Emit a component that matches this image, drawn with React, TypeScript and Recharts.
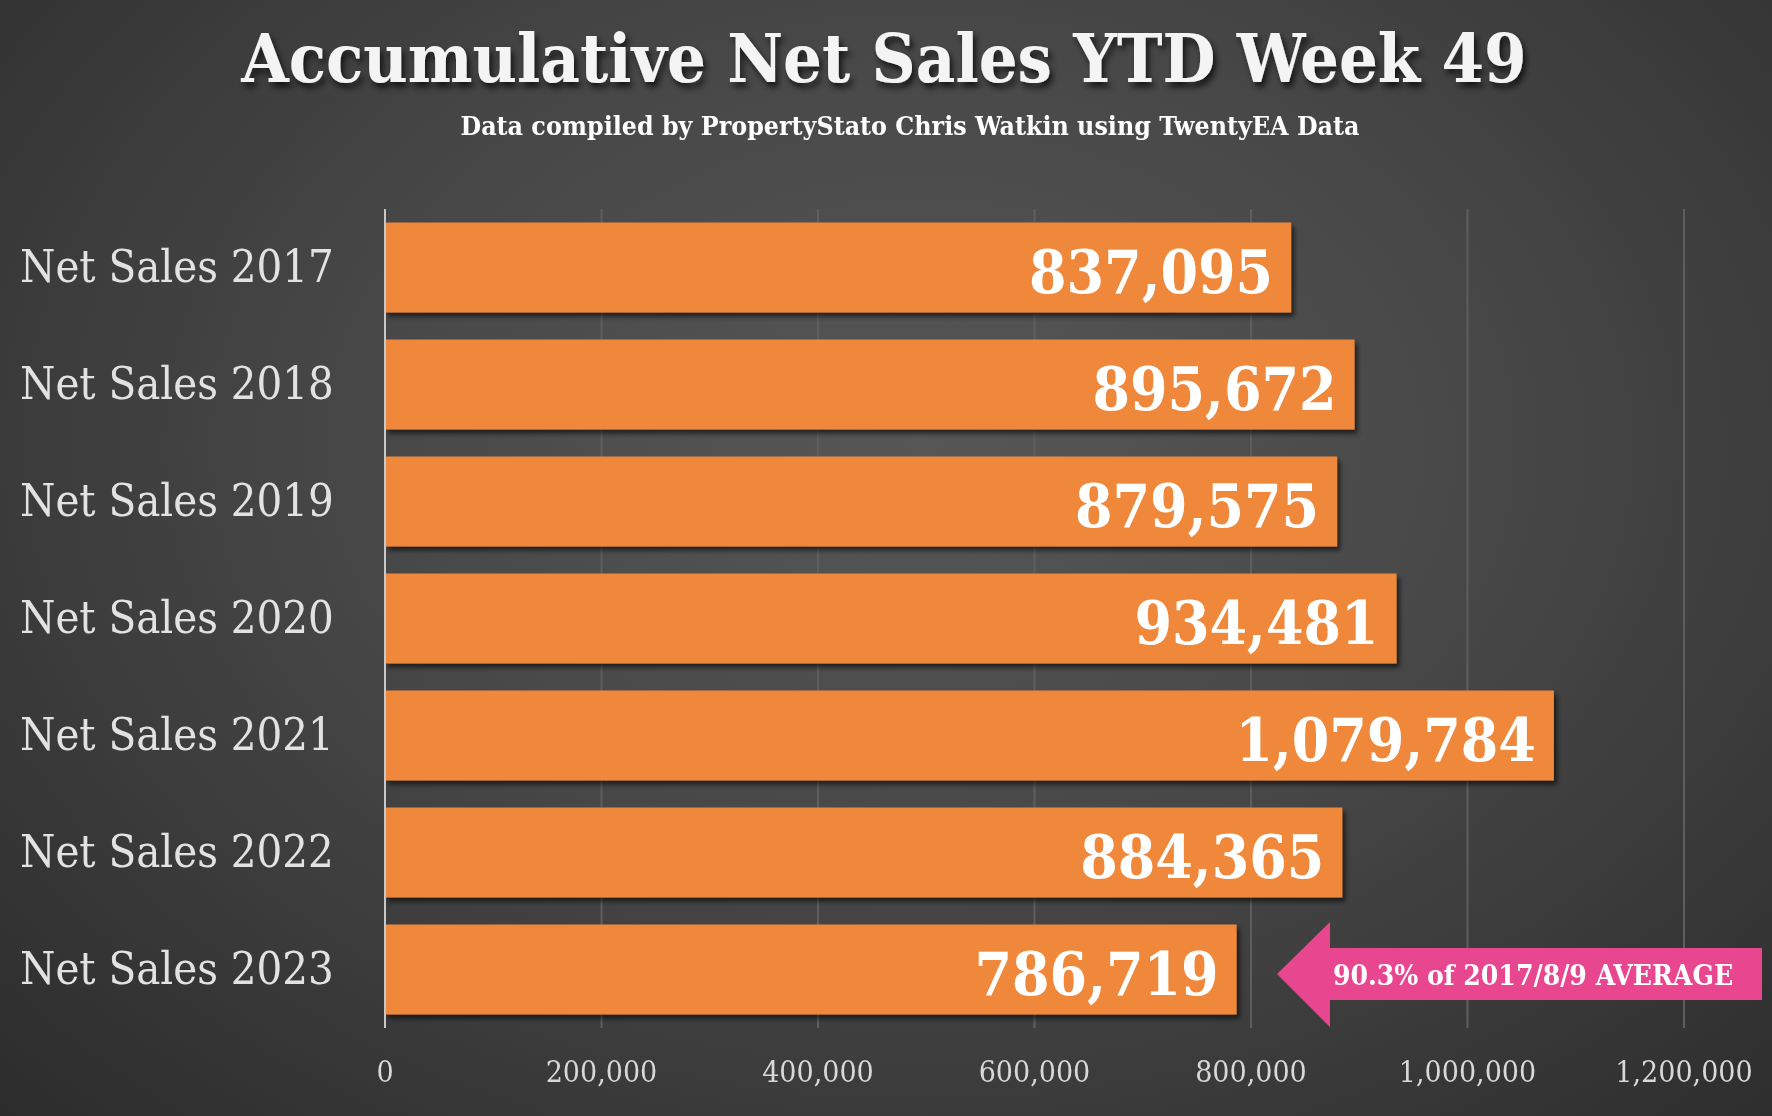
import React from 'react';
import { Bar, BarChart, CartesianGrid, LabelList, XAxis, YAxis } from 'recharts';

const categories = [
  'Net Sales 2017',
  'Net Sales 2018',
  'Net Sales 2019',
  'Net Sales 2020',
  'Net Sales 2021',
  'Net Sales 2022',
  'Net Sales 2023',
];
const netSales = [837095, 895672, 879575, 934481, 1079784, 884365, 786719];
const xTicks = [0, 200000, 400000, 600000, 800000, 1000000, 1200000];

const TITLE = 'Accumulative Net Sales YTD Week 49';
const SUBTITLE = 'Data compiled by PropertyStato Chris Watkin using TwentyEA Data';
const NOTE = '90.3% of 2017/8/9 AVERAGE';

const data = categories.map((name, i) => ({ name, value: netSales[i] }));

const FONT = '"DejaVu Serif Condensed", "DejaVu Serif", serif';
const fmt = (v: number) => v.toLocaleString('en-US');

const W = 1772;
const H = 1116;

function CategoryTick({ y, payload }: any) {
  return (
    <text x={20} y={y} dy={14} textAnchor="start" fill="#e2e2e2" fontFamily={FONT} fontSize={45}>
      {payload.value}
    </text>
  );
}

function ValueTick({ x, y, payload }: any) {
  return (
    <text x={x} y={y + 42} dy={4} textAnchor="middle" fill="#d8d8d8" fontFamily={FONT} fontSize={30}>
      {fmt(payload.value)}
    </text>
  );
}

function ValueLabel({ x, y, width, height, value }: any) {
  return (
    <text
      x={x + width - 18}
      y={y + height / 2}
      dy={26}
      textAnchor="end"
      fill="#ffffff"
      fontFamily={FONT}
      fontWeight="bold"
      fontSize={60}
    >
      {fmt(value)}
    </text>
  );
}

export default function App() {
  return (
    <div
      style={{
        position: 'fixed',
        left: 0,
        top: 0,
        width: W,
        height: H,
        background: 'radial-gradient(ellipse at 52% 40%, #575757 0%, #474747 45%, #2c2c2c 100%)',
      }}
    >
      <BarChart
        width={W}
        height={H}
        data={data}
        layout="vertical"
        margin={{ top: 209, right: 88, bottom: 0, left: 0 }}
        barCategoryGap="11.5%"
      >
        <defs>
          <filter id="barShadow" x="-5%" y="-20%" width="115%" height="150%">
            <feDropShadow dx="3" dy="4" stdDeviation="2.5" floodColor="#000" floodOpacity="0.6" />
          </filter>
        </defs>
        <CartesianGrid horizontal={false} stroke="#5e5e5e" strokeWidth={2} />
        <XAxis
          type="number"
          domain={[0, 1200000]}
          ticks={xTicks}
          axisLine={false}
          tickLine={false}
          tick={<ValueTick />}
          height={88}
        />
        <YAxis
          type="category"
          dataKey="name"
          width={385}
          axisLine={{ stroke: '#c8c8c8', strokeWidth: 2 }}
          tickLine={false}
          tick={<CategoryTick />}
        />
        <Bar dataKey="value" fill="#F0883B" filter="url(#barShadow)" isAnimationActive={false}>
          <LabelList dataKey="value" content={<ValueLabel />} />
        </Bar>
      </BarChart>
      <svg
        width={W}
        height={H}
        style={{ position: 'absolute', left: 0, top: 0, pointerEvents: 'none' }}
      >
        <defs>
          <filter id="titleShadow" x="-5%" y="-30%" width="110%" height="160%">
            <feDropShadow dx="3" dy="5" stdDeviation="3" floodColor="#000" floodOpacity="0.7" />
          </filter>
        </defs>
        <text
          x={884}
          y={82}
          textAnchor="middle"
          fill="#f4f4f4"
          fontFamily={FONT}
          fontWeight="bold"
          fontSize={68}
          filter="url(#titleShadow)"
        >
          {TITLE}
        </text>
        <text
          x={910}
          y={135}
          textAnchor="middle"
          fill="#ffffff"
          fontFamily={FONT}
          fontWeight="bold"
          fontSize={26.5}
        >
          {SUBTITLE}
        </text>
        <polygon
          points="1277,974 1330,922 1330,948 1762,948 1762,1000 1330,1000 1330,1027"
          fill="#E8468F"
        />
        <text
          x={1533}
          y={985}
          textAnchor="middle"
          fill="#ffffff"
          fontFamily={FONT}
          fontWeight="bold"
          fontSize={28}
        >
          {NOTE}
        </text>
      </svg>
    </div>
  );
}
